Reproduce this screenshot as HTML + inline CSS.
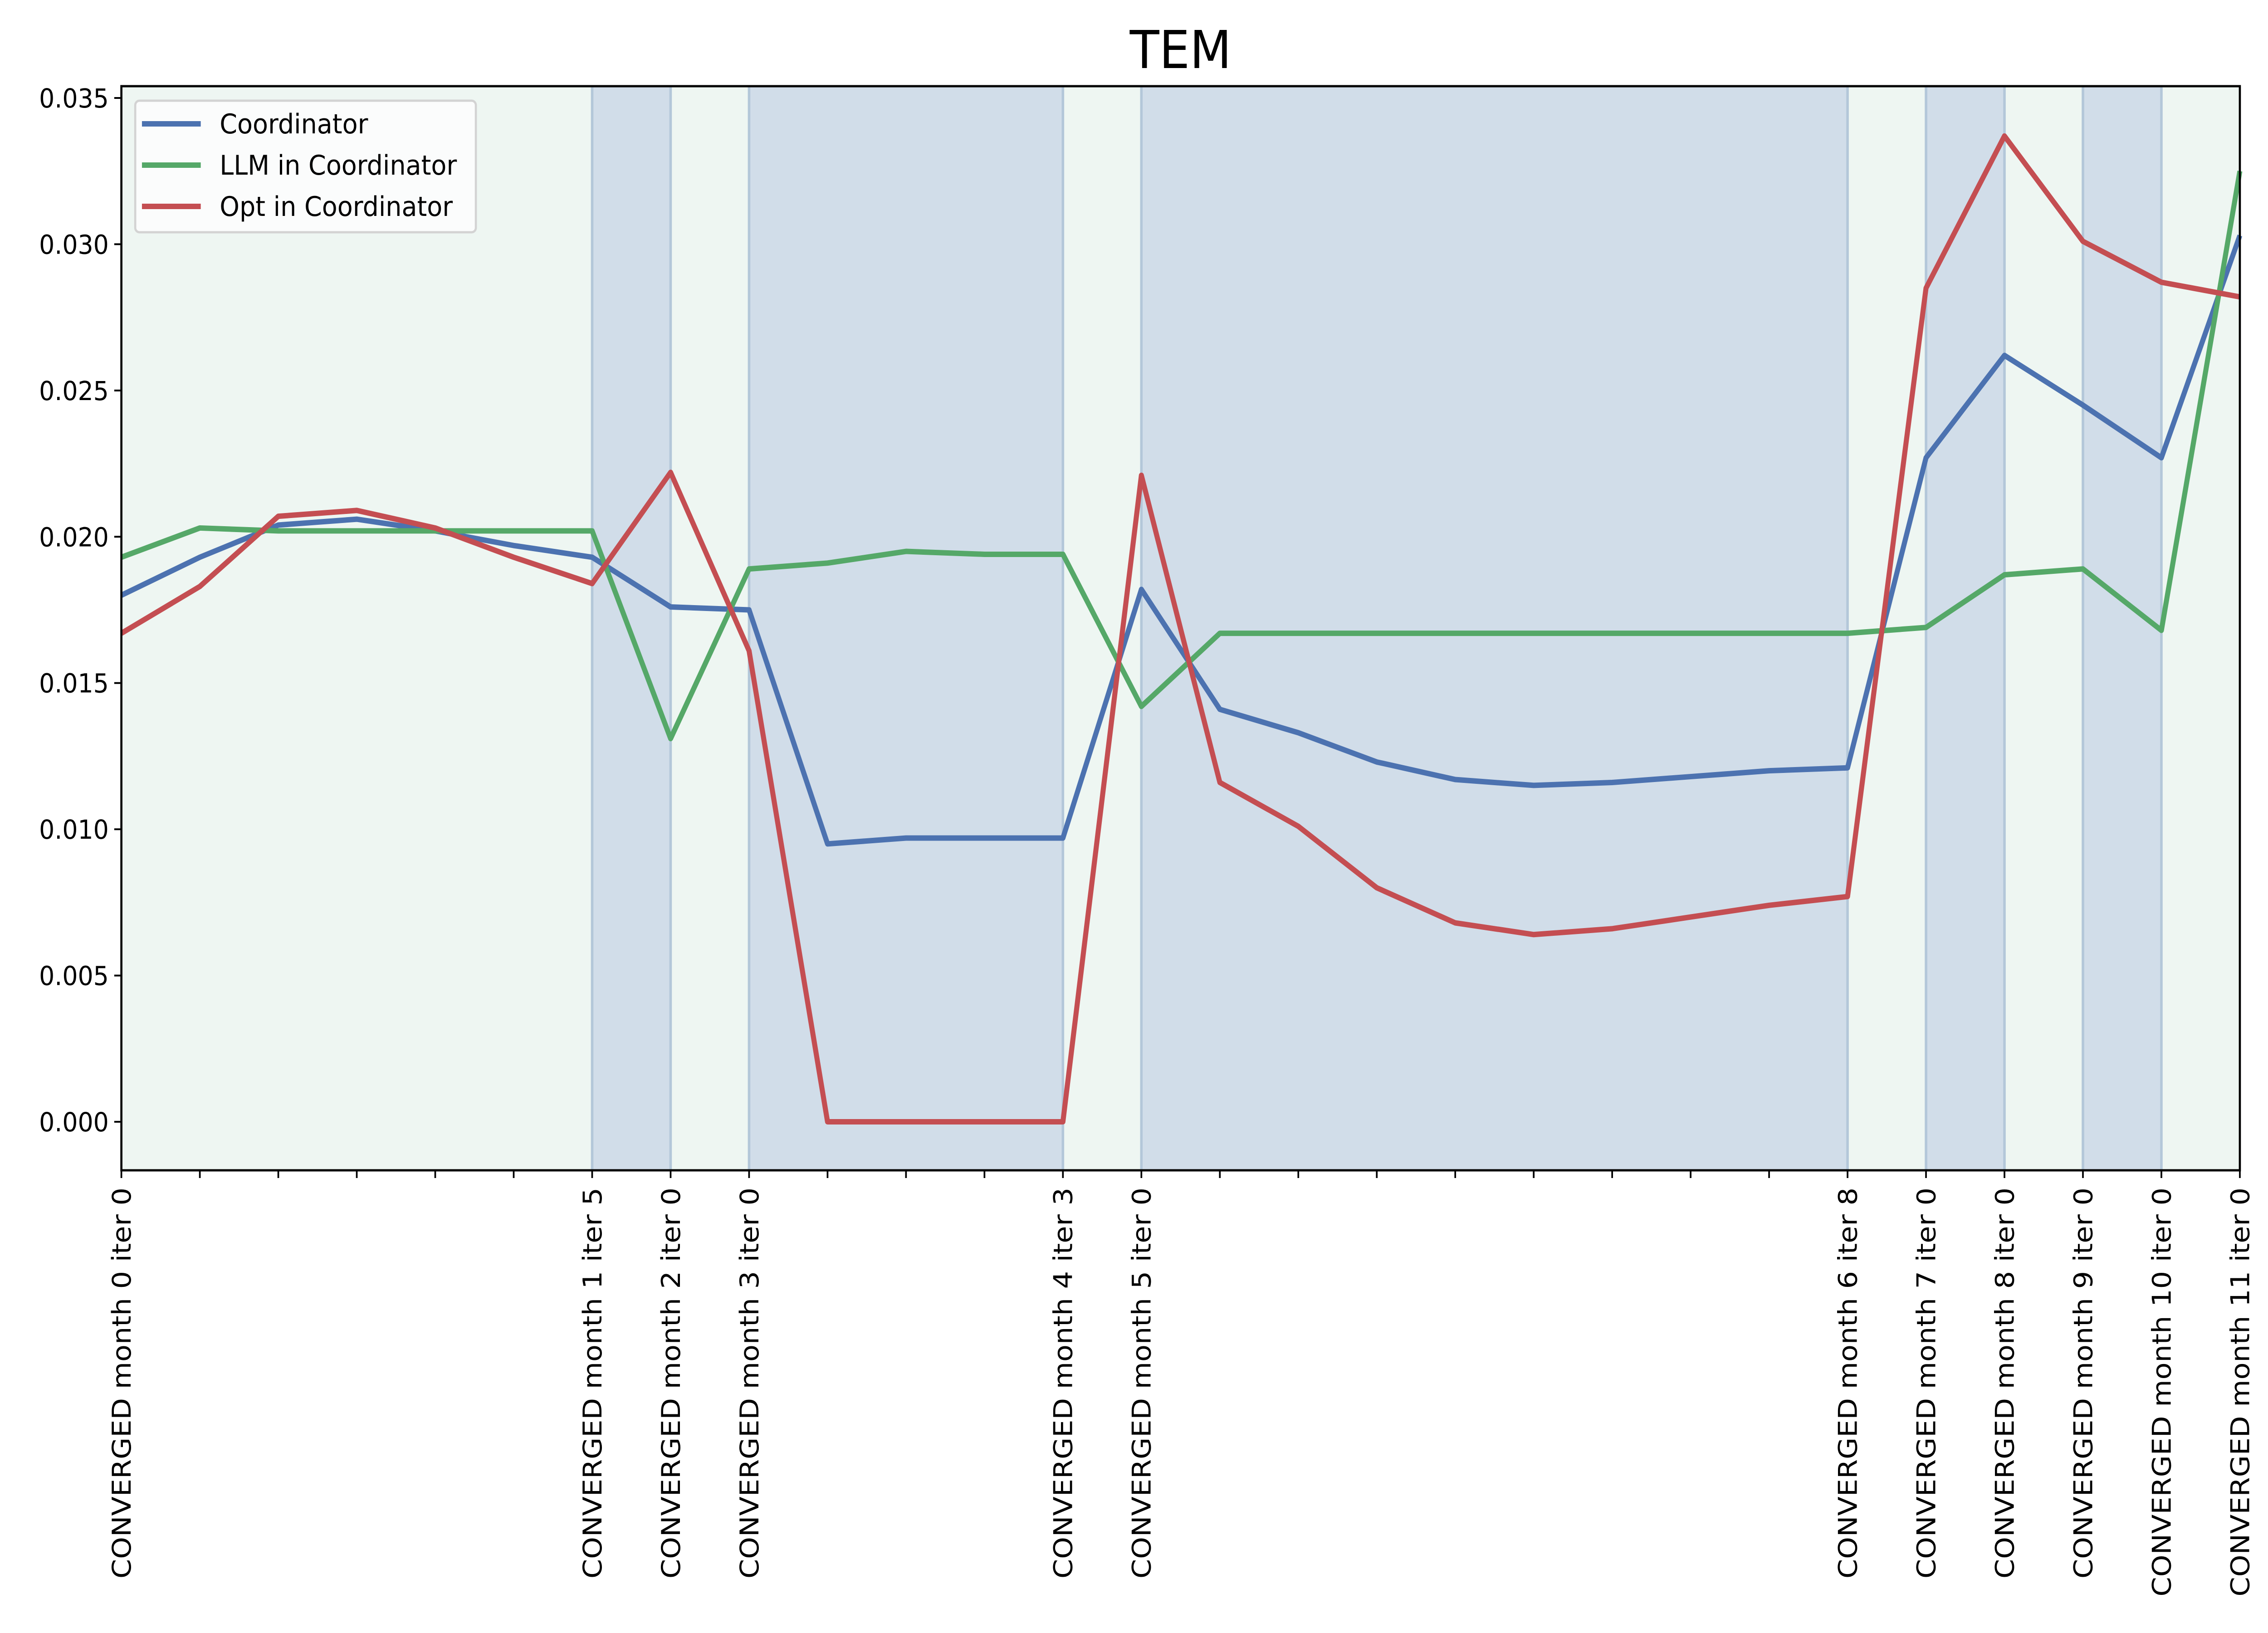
<!DOCTYPE html>
<html><head><meta charset="utf-8"><style>html,body{margin:0;padding:0;background:#fff;overflow:hidden;width:100%;height:100%}svg{display:block;width:100vw;height:100vh}text{font-family:"DejaVu Sans","Liberation Sans",sans-serif}</style></head>
<body>
<svg id="chart" viewBox="0 0 5400 3600" preserveAspectRatio="none" xmlns="http://www.w3.org/2000/svg">
<text x="2811" y="150" font-size="115" text-anchor="middle">TEM</text>
<g id="plot"></g>
</svg>
<script>
const coordinator = [0.0180,0.0193,0.0204,0.0206,0.0202,0.0197,0.0193,0.0176,0.0175,0.0095,0.0097,0.0097,0.0097,0.0182,0.0141,0.0133,0.0123,0.0117,0.0115,0.0116,0.0118,0.0120,0.0121,0.0227,0.0262,0.0245,0.0227,0.0303];
const llm = [0.0193,0.0203,0.0202,0.0202,0.0202,0.0202,0.0202,0.0131,0.0189,0.0191,0.0195,0.0194,0.0194,0.0142,0.0167,0.0167,0.0167,0.0167,0.0167,0.0167,0.0167,0.0167,0.0167,0.0169,0.0187,0.0189,0.0168,0.0325];
const opt = [0.0167,0.0183,0.0207,0.0209,0.0203,0.0193,0.0184,0.0222,0.0161,0.0000,0.0000,0.0000,0.0000,0.0221,0.0116,0.0101,0.0080,0.0068,0.0064,0.0066,0.0070,0.0074,0.0077,0.0285,0.0337,0.0301,0.0287,0.0282];
const labelIdx = [0,6,7,8,12,13,22,23,24,25,26,27];
const labelText = ["CONVERGED month 0 iter 0","CONVERGED month 1 iter 5","CONVERGED month 2 iter 0","CONVERGED month 3 iter 0","CONVERGED month 4 iter 3","CONVERGED month 5 iter 0","CONVERGED month 6 iter 8","CONVERGED month 7 iter 0","CONVERGED month 8 iter 0","CONVERGED month 9 iter 0","CONVERGED month 10 iter 0","CONVERGED month 11 iter 0"];
const shadeStart = [6,8,13,23,25];
const shadeEnd = [7,12,22,24,26];
const yTicks = [0,0.005,0.010,0.015,0.020,0.025,0.030,0.035];

const L=289,R=5333,T=190,B=2580,N=28;
const X=i=>L+(R-L)*i/(N-1);
const Y=v=>2473-(2473-216)*v/0.035;
const NS="http://www.w3.org/2000/svg";
const g=document.getElementById('plot');
function mk(tag,attrs,parent){const e=document.createElementNS(NS,tag);for(const k in attrs)e.setAttribute(k,attrs[k]);(parent||g).appendChild(e);return e;}

let bg=mk('rect',{x:L,y:T,width:R-L,height:B-T,fill:'#eef6f2'});


shadeStart.forEach((s,k)=>{
  const r=mk('rect',{x:X(s),y:T,width:X(shadeEnd[k])-X(s),height:B-T,fill:'#d1dde9'});
  
  
  [s,shadeEnd[k]].forEach(i=>{
    const l=mk('line',{x1:X(i),x2:X(i),y1:T,y2:B,stroke:'#b3c7d9','stroke-width':6});
    
    
  });
});
function series(arr,color,name){
  const p=mk('polyline',{points:arr.map((v,i)=>X(i)+','+Y(v)).join(' '),fill:'none',stroke:color,'stroke-width':12,'stroke-linejoin':'round'});
  
  
}
series(coordinator,'#4c72b0','coordinator-line');
series(llm,'#55a868','llm-in-coordinator-line');
series(opt,'#c44e52','opt-in-coordinator-line');
let fr=mk('rect',{x:L,y:T,width:R-L,height:B-T,fill:'none',stroke:'#000','stroke-width':5});


yTicks.forEach(v=>{
  const t=mk('line',{x1:L-17,x2:L,y1:Y(v),y2:Y(v),stroke:'#000','stroke-width':4});
  
  
  const tx=mk('text',{x:L-30,y:Y(v)+21,'font-size':58,'text-anchor':'end'});
  tx.textContent=v.toFixed(3);
  
  
});
for(let i=0;i<N;i++){
  const t=mk('line',{x1:X(i),x2:X(i),y1:B,y2:B+17,stroke:'#000','stroke-width':4});
  
  
}
labelIdx.forEach((i,k)=>{
  const tx=mk('text',{x:0,y:0,'font-size':62,'text-anchor':'end',transform:`translate(${X(i)+22},2618) rotate(-90)`});
  tx.textContent=labelText[k];
  
  
});
const lg=mk('g',{});


mk('rect',{x:322,y:222,width:811,height:290,rx:10,fill:'#fbfcfc',stroke:'#d3d3d3','stroke-width':5},lg);
const legNames=['Coordinator','LLM in Coordinator','Opt in Coordinator'];
const legColors=['#4c72b0','#55a868','#c44e52'];
legNames.forEach((n,k)=>{
  const y=273+k*91;
  const l=mk('line',{x1:338,x2:478,y1:y,y2:y,stroke:legColors[k],'stroke-width':12},lg);
  
  
  const t=mk('text',{x:523,y:y+21,'font-size':60},lg);
  t.textContent=n;
  
  
});
</script>
</body></html>
